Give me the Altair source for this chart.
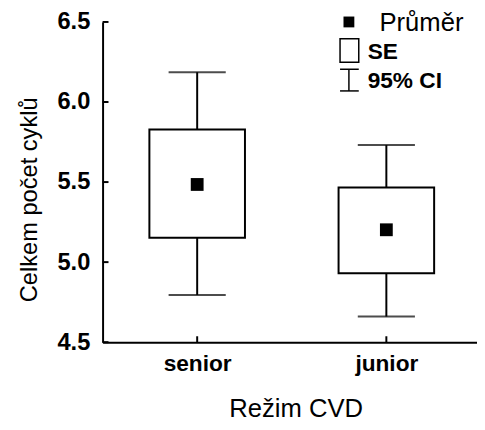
import altair as alt
import pandas as pd

groups = ["senior", "junior"]
means = [5.485, 5.202]
se_low = [5.152, 4.931]
se_high = [5.829, 5.466]
ci_low = [4.795, 4.660]
ci_high = [6.186, 5.731]
y_ticks = [4.5, 5.0, 5.5, 6.0, 6.5]

idx = list(range(len(groups)))
df = pd.DataFrame({
    "idx": idx, "group": groups, "mean": means, "se_low": se_low, "se_high": se_high,
    "ci_low": ci_low, "ci_high": ci_high,
})
ticks_df = pd.DataFrame({"v": y_ticks})
one = pd.DataFrame({"a": [0]})

FONT = "Liberation Sans"
W, H = 380, 325
STEP = 192  # pixels between category centres

label_expr = " : ".join(
    f"datum.value == {i} ? '{g}'" for i, g in enumerate(groups[:-1])
) + f" : '{groups[-1]}'"

xscale = alt.Scale(domain=[-0.5, W / STEP - 0.5], nice=False, zero=False, padding=0)
yscale = alt.Scale(domain=[4.5, 6.5], nice=False, zero=False, padding=0)

xaxis = alt.Axis(title="Režim CVD", values=idx, labelExpr=label_expr, labelFont=FONT,
                 labelFontWeight="bold", labelFontSize=23,
                 labelColor="black", labelAngle=0, labelPadding=11, ticks=False,
                 domainColor="black", domainWidth=2, titleFont=FONT, titleFontSize=26,
                 titleFontWeight="normal", titleColor="black", titlePadding=20, grid=False,
                 titleX=196)
yaxis = alt.Axis(title="Celkem počet cyklů", values=y_ticks, format=".1f", labelFont=FONT,
                 labelFontWeight="bold", labelFontSize=24, labelColor="black", labelPadding=13,
                 ticks=False, domainColor="black", domainWidth=2, titleFont=FONT,
                 titleFontSize=24, titleFontWeight="normal", titleColor="black",
                 titleX=-62, titleY=180, grid=False)

base = alt.Chart(df)
X = alt.X("idx:Q", scale=xscale, axis=xaxis)

whisker = base.mark_rule(color="black", strokeWidth=2).encode(
    x=X, y=alt.Y("ci_low:Q", scale=yscale, axis=yaxis), y2="ci_high:Q")
box = base.mark_bar(fill="white", stroke="black", strokeWidth=2, size=97).encode(
    x=X, y=alt.Y("se_low:Q", scale=yscale), y2="se_high:Q")
cap_lo = base.mark_tick(color="black", thickness=2, size=58, orient="horizontal").encode(
    x=X, y=alt.Y("ci_low:Q", scale=yscale))
cap_hi = base.mark_tick(color="black", thickness=2, size=58, orient="horizontal").encode(
    x=X, y=alt.Y("ci_high:Q", scale=yscale))
mean_pt = base.mark_square(color="black", size=169, opacity=1, strokeWidth=0).encode(
    x=X, y=alt.Y("mean:Q", scale=yscale))
xticks = base.mark_rule(color="black", strokeWidth=2).encode(
    x=X, y=alt.value(H), y2=alt.value(H - 6))
yticks = alt.Chart(ticks_df).mark_rule(color="black", strokeWidth=2).encode(
    y=alt.Y("v:Q", scale=yscale), x=alt.value(0), x2=alt.value(6))

# legend
lg = alt.Chart(one)
leg_mean = lg.mark_square(color="black", size=121, opacity=1, strokeWidth=0).encode(
    x=alt.value(250), y=alt.value(0))
leg_mean_t = lg.mark_text(text="Průměr", font=FONT, fontSize=26, align="left",
                          baseline="middle", color="black").encode(x=alt.value(281), y=alt.value(1))
leg_box = lg.mark_rect(fill="white", stroke="black", strokeWidth=1.5).encode(
    x=alt.value(241), x2=alt.value(260), y=alt.value(17), y2=alt.value(41))
leg_se = lg.mark_text(text="SE", font=FONT, fontSize=23, fontWeight="bold", align="left",
                      baseline="middle", color="black").encode(x=alt.value(269), y=alt.value(31))
leg_ci_v = lg.mark_rule(color="black", strokeWidth=1.5).encode(
    x=alt.value(250), y=alt.value(48), y2=alt.value(70))
leg_ci_t = lg.mark_rule(color="black", strokeWidth=1.5).encode(
    x=alt.value(241), x2=alt.value(260), y=alt.value(48))
leg_ci_b = lg.mark_rule(color="black", strokeWidth=1.5).encode(
    x=alt.value(241), x2=alt.value(260), y=alt.value(70))
leg_ci_txt = lg.mark_text(text="95% CI", font=FONT, fontSize=23, fontWeight="bold", align="left",
                          baseline="middle", color="black").encode(x=alt.value(269), y=alt.value(60))

chart = alt.layer(
    whisker, box, cap_lo, cap_hi, mean_pt, xticks, yticks,
    leg_mean, leg_mean_t, leg_box, leg_se, leg_ci_v, leg_ci_t, leg_ci_b, leg_ci_txt,
).properties(
    width=W, height=H,
    autosize=alt.AutoSizeParams(type="none"),
    padding={"left": 96, "top": 11, "right": 0, "bottom": 88},
    background="white",
).configure_view(stroke=None)

chart.save("out.html", embed_options={"renderer": "svg", "actions": False})
